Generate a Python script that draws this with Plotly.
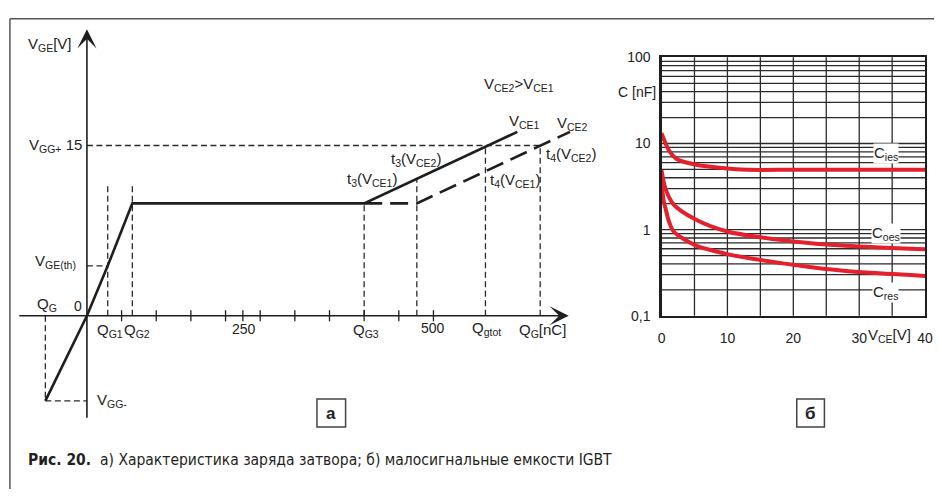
import math
import plotly.graph_objects as go

W, H = 942, 497

# ---------------- Left panel (a): gate charge characteristic ----------------
# key charge values, nC
Q_GG_NEG = -60
Q_G1 = 30
Q_G2 = 65.5
Q_G3 = 400
Q_T3_VCE2 = 476
Q_GTOT = 575
Q_G_END = 654
# key voltages, V
V_GG_MINUS = -7.5
V_TH = 4.4
V_PLATEAU = 9.9
V_GG_PLUS = 15
V_Q12_TOP = 11.5
V_T3_VCE2 = 12.1
V_END = 16.2
Q_VCE1_END = 621
Q_VCE2_END = 697

gate_q = [Q_GG_NEG, 0, Q_G1, Q_G2, Q_G3, Q_VCE1_END]
gate_v = [V_GG_MINUS, 0, V_TH, V_PLATEAU, V_PLATEAU, V_END]
vce2_q = [Q_G3, Q_T3_VCE2, Q_VCE2_END]
vce2_v = [V_PLATEAU, V_PLATEAU, V_END]

x_minor_ticks = [50, 100, 150, 200, 225, 250, 300, 350, 400, 450, 500]

# guide (dashed) segments: (q0, v0, q1, v1)
guides = [
    (0, V_GG_PLUS, Q_G_END, V_GG_PLUS),
    (0, V_TH, Q_G1, V_TH),
    (Q_GG_NEG, V_GG_MINUS, 0, V_GG_MINUS),
    (Q_GG_NEG, 0, Q_GG_NEG, V_GG_MINUS),
    (Q_G1, 0, Q_G1, V_Q12_TOP),
    (Q_G2, 0, Q_G2, V_Q12_TOP),
    (Q_G3, 0, Q_G3, V_PLATEAU),
    (Q_T3_VCE2, 0, Q_T3_VCE2, V_T3_VCE2),
    (Q_GTOT, 0, Q_GTOT, V_GG_PLUS),
    (Q_G_END, 0, Q_G_END, V_GG_PLUS),
]

# ---------------- Right panel (б): small-signal capacitances ----------------
cies_vce = [0, 1.1, 2.3, 5.1, 9.6, 13, 20, 30, 40]
cies_nf = [13.2, 8.4, 6.6, 5.7, 5.15, 4.95, 4.95, 4.95, 4.95]
coes_vce = [0, 0.6, 1.85, 5.1, 10, 20, 28, 40]
coes_nf = [4.93, 2.99, 1.95, 1.32, 0.95, 0.73, 0.65, 0.59]
cres_vce = [0, 0.35, 0.6, 1.1, 1.85, 5.1, 10, 20, 28, 40]
cres_nf = [3.56, 2.1, 1.78, 1.26, 0.95, 0.66, 0.52, 0.39, 0.33, 0.29]

cap_x_ticks = [0, 10, 20, 30, 40]
cap_x_labels = ["0", "10", "20", "30", "40"]
cap_y_ticks = [0.1, 1, 10, 100]
cap_y_labels = ["0,1", "1", "10", "100"]
cap_y_grid = [m * 10 ** e for e in (-1, 0, 1) for m in range(2, 10)] + [1, 10]
cap_x_grid = [5, 10, 15, 20, 25, 30, 35]

# ---------------- geometry (pixel mapping of the left schematic) ----------------
X0_PX, PX_PER_NC = 84, 35.1 / 50
Y0_PX, PX_PER_V = 318, 11.73
LEFT_W = 620


def px(x):
    return x / W


def py(y):
    return 1 - y / H


BLACK = "#1e1e1e"
DASHC = "#2a2a2a"
RED = "#e3202b"
FONT = "Liberation Sans, Arial, sans-serif"

fig = go.Figure()

# guides
gx, gy = [], []
for q0, v0, q1, v1 in guides:
    gx += [q0, q1, None]
    gy += [v0, v1, None]
fig.add_trace(go.Scatter(x=gx, y=gy, mode="lines",
                         line=dict(color=DASHC, width=1.3, dash="6px,3.5px"),
                         hoverinfo="skip", showlegend=False))

# axis ticks crossing the Q axis
fig.add_trace(go.Scatter(x=x_minor_ticks, y=[0] * len(x_minor_ticks), mode="markers",
                         marker=dict(symbol="line-ns", size=8,
                                     line=dict(color=BLACK, width=1.3)),
                         hoverinfo="skip", showlegend=False))

# V_CE2 dashed curve
fig.add_trace(go.Scatter(x=vce2_q, y=vce2_v, mode="lines",
                         line=dict(color=BLACK, width=2.6, dash="18px,8px"),
                         hoverinfo="skip", showlegend=False))
# main gate-charge curve
fig.add_trace(go.Scatter(x=gate_q, y=gate_v, mode="lines",
                         line=dict(color=BLACK, width=2.6),
                         hoverinfo="skip", showlegend=False))

# capacitance curves
for xs, ys in ((cies_vce, cies_nf), (coes_vce, coes_nf), (cres_vce, cres_nf)):
    fig.add_trace(go.Scatter(x=xs, y=ys, xaxis="x2", yaxis="y2", mode="lines",
                             line=dict(color=RED, width=4, shape="spline", smoothing=0.8),
                             hoverinfo="skip", showlegend=False))

xr = [(0 - X0_PX) / PX_PER_NC, (LEFT_W - X0_PX) / PX_PER_NC]
yr = [(Y0_PX - H) / PX_PER_V, (Y0_PX - 0) / PX_PER_V]

fig.update_layout(
    width=W, height=H, margin=dict(l=0, r=0, t=0, b=0),
    paper_bgcolor="white", plot_bgcolor="rgba(0,0,0,0)",
    font=dict(family=FONT, size=14, color="#222"),
    xaxis=dict(domain=[0, LEFT_W / W], range=xr, visible=False, fixedrange=True),
    yaxis=dict(domain=[0, 1], range=yr, visible=False, fixedrange=True),
    xaxis2=dict(domain=[px(666), px(933)], anchor="y2", range=[0, 40],
                tickvals=cap_x_ticks, ticktext=cap_x_labels,
                showgrid=False, zeroline=False,
                showline=True, mirror=True, linecolor=BLACK, linewidth=2.2,
                ticks="outside", ticklen=8, tickcolor="rgba(0,0,0,0)",
                tickfont=dict(size=14, color="#222")),
    yaxis2=dict(domain=[py(318), py(51)], anchor="x2", type="log", range=[-1, 2],
                tickvals=cap_y_ticks, ticktext=cap_y_labels,
                showgrid=False, zeroline=False,
                showline=True, mirror=True, linecolor=BLACK, linewidth=2.2,
                ticks="outside", ticklen=6, tickcolor="rgba(0,0,0,0)",
                tickfont=dict(size=14, color="#222")),
)

shapes = []
# grid of right chart drawn as lines in its axes
for v in cap_y_grid:
    shapes.append(dict(type="line", xref="x2 domain", yref="y2", x0=0, x1=1, y0=v, y1=v,
                       line=dict(color="#2b2b2b", width=1.3), layer="below"))
for v in cap_x_grid:
    shapes.append(dict(type="line", xref="x2", yref="y2 domain", x0=v, x1=v, y0=0, y1=1,
                       line=dict(color="#2b2b2b", width=1.3), layer="below"))

# outer frame (top & left)
shapes.append(dict(type="line", xref="paper", yref="paper", x0=px(6), x1=1, y0=py(11), y1=py(11),
                   line=dict(color="#555", width=1.5)))
shapes.append(dict(type="line", xref="paper", yref="paper", x0=px(6), x1=px(6), y0=py(11), y1=0,
                   line=dict(color="#555", width=1.5)))
# panel tag boxes
for x0, x1 in ((317, 346), (803, 831)):
    shapes.append(dict(type="rect", xref="paper", yref="paper", x0=px(x0), x1=px(x1),
                       y0=py(433), y1=py(404), line=dict(color="#444", width=1.5)))
fig.update_layout(shapes=shapes)

ann = []


def label(text, q, v, xanchor="center", yanchor="middle", size=14, xshift=0, yshift=0,
          xref="x", yref="y", bg=None):
    d = dict(text=text, x=q, y=v, xref=xref, yref=yref, showarrow=False,
             xanchor=xanchor, yanchor=yanchor, xshift=xshift, yshift=yshift,
             font=dict(family=FONT, size=size, color="#222"))
    if bg:
        d["bgcolor"] = bg
        d["borderpad"] = 0
    ann.append(d)


# axes with arrowheads
ann.append(dict(x=0, y=(Y0_PX - 22) / PX_PER_V, ax=0, ay=(Y0_PX - 425) / PX_PER_V,
                xref="x", yref="y", axref="x", ayref="y", text="", showarrow=True,
                arrowhead=3, arrowsize=2, arrowwidth=1.6, arrowcolor=BLACK, standoff=0))
ann.append(dict(x=(572 - X0_PX) / PX_PER_NC, y=0, ax=(14 - X0_PX) / PX_PER_NC, ay=0,
                xref="x", yref="y", axref="x", ayref="y", text="", showarrow=True,
                arrowhead=3, arrowsize=2, arrowwidth=1.6, arrowcolor=BLACK, standoff=0))

label("V<sub>GE</sub>[V]", -54, 23.9, size=15)
label("V<sub>GG+</sub> 15", 0, V_GG_PLUS, xanchor="right", xshift=-3, size=15)
label("V<sub>GE(th)</sub>", -13, 4.8, xanchor="right", size=15)
label("Q<sub>G</sub>", -58, 1.0, size=15)
label("0", -13, 0.9, size=14)
label("Q<sub>G1</sub>", 33, -1.3, size=15)
label("Q<sub>G2</sub>", 72, -1.3, size=15)
label("250", 227, -1.2, size=14)
label("V<sub>GG-</sub>", 0, V_GG_MINUS, xanchor="left", xshift=8, size=15)
label("Q<sub>G3</sub>", 403, -1.3, size=15)
label("500", 500, -1.1, size=14)
label("Q<sub>gtot</sub>", 576, -1.1, size=15)
label("Q<sub>G</sub>[nC]", 657, -1.3, size=15)
label("V<sub>CE2</sub>&gt;V<sub>CE1</sub>", 624, 20.4, size=15)
label("V<sub>CE1</sub>", 631, 17.1, size=15)
label("V<sub>CE2</sub>", 700, 16.9, size=15)
label("t<sub>4</sub>(V<sub>CE2</sub>)", 699, 14.2, size=15)
label("t<sub>3</sub>(V<sub>CE2</sub>)", 475, 13.8, size=15)
label("t<sub>3</sub>(V<sub>CE1</sub>)", 412, 12.0, size=15)
label("t<sub>4</sub>(V<sub>CE1</sub>)", 617, 11.9, size=15)

# right chart labels
label("C [nF]", px(641), py(87), xref="paper", yref="paper", size=14)
label("V<sub>CE</sub>[V]", px(897), py(338), xref="paper", yref="paper", size=15)
label("C<sub>ies</sub>", 34, math.log10(7.7), xref="x2", yref="y2", size=15, bg="white")
label("C<sub>oes</sub>", 34, math.log10(0.9), xref="x2", yref="y2", size=15, bg="white")
label("C<sub>res</sub>", 34, math.log10(0.185), xref="x2", yref="y2", size=15, bg="white")

# panel tags
label("<b>а</b>", px(331.5), py(418.5), xref="paper", yref="paper", size=17)
label("<b>б</b>", px(817), py(418.5), xref="paper", yref="paper", size=17)

# caption
ann.append(dict(text="<b>Рис. 20.</b>  а) Характеристика заряда затвора; б) малосигнальные емкости IGBT",
                x=px(22), y=py(467), xref="paper", yref="paper", showarrow=False,
                xanchor="left", yanchor="middle",
                font=dict(family="DejaVu Sans Condensed, Liberation Sans Narrow, Roboto, sans-serif",
                          size=15.5, color="#231f20")))

fig.update_layout(annotations=ann)
fig.write_html("out.html", config={"displayModeBar": False, "staticPlot": True},
               post_script="document.body.style.margin='0';document.body.style.overflow='hidden';")
